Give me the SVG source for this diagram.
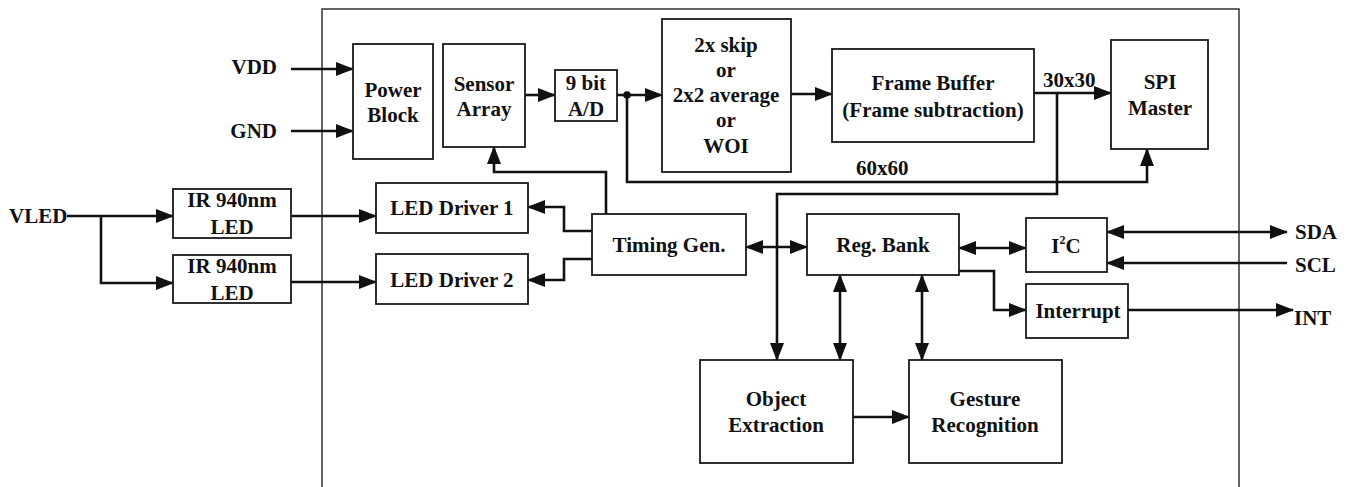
<svg xmlns="http://www.w3.org/2000/svg" width="1347" height="487" viewBox="0 0 1347 487">
<style>
.box{fill:#fff;stroke:#1a1a1a;stroke-width:1.8}
.chip{fill:none;stroke:#333;stroke-width:1.5}
text{font-family:'Liberation Serif','DejaVu Serif',serif;font-weight:bold;font-size:21px;fill:#111}
.t{text-anchor:middle}
.c{fill:none;stroke:#111;stroke-width:2.6}
.a{marker-end:url(#ah)}
.d{marker-start:url(#ah);marker-end:url(#ah)}
</style>
<defs>
<marker id="ah" markerUnits="userSpaceOnUse" markerWidth="18" markerHeight="14" refX="17" refY="7" orient="auto-start-reverse">
<path d="M0,0 L18,7 L0,14 z" fill="#111"/>
</marker>
</defs>
<rect class="chip" x="322" y="9" width="917" height="500"/>

<g id="connectors">
<path class="c a" d="M291,69 H353"/>
<path class="c a" d="M291,131 H353"/>
<path class="c a" d="M525,95 H555"/>
<path class="c a" d="M617,95 H662"/>
<circle cx="627" cy="95" r="3.8" fill="#111"/>
<path class="c a" d="M791,94 H832"/>
<path class="c a" d="M1034,93 H1111"/>
<path class="c a" d="M627,95 V182 H1147 V149"/>
<path class="c a" d="M1057,93 V194 H777 V360"/>
<path class="c a" d="M606,214 V172 H494 V147"/>
<path class="c a" d="M592,231 H564 V207 H528"/>
<path class="c a" d="M592,259 H564 V280 H528"/>
<path class="c a" d="M67,216 H173"/>
<path class="c a" d="M101,216 V283 H173"/>
<path class="c a" d="M291,216 H376"/>
<path class="c a" d="M291,282 H376"/>
<path class="c d" d="M746,247 H807"/>
<path class="c d" d="M959,248 H1026"/>
<path class="c d" d="M1107,232 H1287"/>
<path class="c a" d="M1287,263 H1107"/>
<path class="c a" d="M959,271 H994 V310 H1026"/>
<path class="c a" d="M1128,310 H1293"/>
<path class="c d" d="M840,275 V360"/>
<path class="c d" d="M922,275 V360"/>
<path class="c a" d="M853,417 H909"/>
</g>

<g id="labels">
<text x="277" y="74" text-anchor="end">VDD</text>
<text x="277" y="138" text-anchor="end">GND</text>
<text x="9" y="223">VLED</text>
<text x="1295" y="239">SDA</text>
<text x="1295" y="272">SCL</text>
<text x="1294" y="325">INT</text>
<text x="1043" y="87">30x30</text>
<text x="856" y="175">60x60</text>
</g>

<g id="power-block"><rect class="box" x="353" y="44" width="80" height="115"/>
<text class="t" x="393" y="97">Power</text><text class="t" x="393" y="122">Block</text></g>
<g id="sensor-array"><rect class="box" x="443" y="44" width="82" height="103"/>
<text class="t" x="484" y="91">Sensor</text><text class="t" x="484" y="116">Array</text></g>
<g id="ad"><rect class="box" x="555" y="70" width="62" height="51"/>
<text class="t" x="586" y="90">9 bit</text><text class="t" x="586" y="116">A/D</text></g>
<g id="skip"><rect class="box" x="662" y="19" width="129" height="153"/>
<text class="t" x="726" y="52">2x skip</text><text class="t" x="726" y="77">or</text><text class="t" x="726" y="102">2x2 average</text><text class="t" x="726" y="127">or</text><text class="t" x="726" y="153">WOI</text></g>
<g id="frame-buffer"><rect class="box" x="832" y="49" width="202" height="93"/>
<text class="t" x="933" y="90">Frame Buffer</text><text class="t" x="933" y="117">(Frame subtraction)</text></g>
<g id="spi-master"><rect class="box" x="1111" y="40" width="97" height="109"/>
<text class="t" x="1160" y="89">SPI</text><text class="t" x="1160" y="115">Master</text></g>
<g id="ir-led-1"><rect class="box" x="173" y="189" width="118" height="49"/>
<text class="t" x="232" y="207">IR 940nm</text><text class="t" x="232" y="234">LED</text></g>
<g id="ir-led-2"><rect class="box" x="173" y="255" width="118" height="48"/>
<text class="t" x="232" y="273">IR 940nm</text><text class="t" x="232" y="300">LED</text></g>
<g id="led-driver-1"><rect class="box" x="376" y="183" width="152" height="50"/>
<text class="t" x="452" y="215">LED Driver 1</text></g>
<g id="led-driver-2"><rect class="box" x="376" y="254" width="152" height="50"/>
<text class="t" x="452" y="287">LED Driver 2</text></g>
<g id="timing-gen"><rect class="box" x="592" y="214" width="154" height="61"/>
<text class="t" x="669" y="252">Timing Gen.</text></g>
<g id="reg-bank"><rect class="box" x="807" y="214" width="152" height="61"/>
<text class="t" x="883" y="252">Reg. Bank</text></g>
<g id="i2c"><rect class="box" x="1026" y="218" width="81" height="54"/>
<text class="t" x="1066" y="253">I<tspan font-size="12" dy="-9">2</tspan><tspan dy="9">C</tspan></text></g>
<g id="interrupt"><rect class="box" x="1026" y="284" width="102" height="54"/>
<text class="t" x="1078" y="318">Interrupt</text></g>
<g id="object-extraction"><rect class="box" x="700" y="360" width="153" height="103"/>
<text class="t" x="776" y="406">Object</text><text class="t" x="776" y="432">Extraction</text></g>
<g id="gesture-recognition"><rect class="box" x="909" y="360" width="153" height="103"/>
<text class="t" x="985" y="406">Gesture</text><text class="t" x="985" y="432">Recognition</text></g>
</svg>
